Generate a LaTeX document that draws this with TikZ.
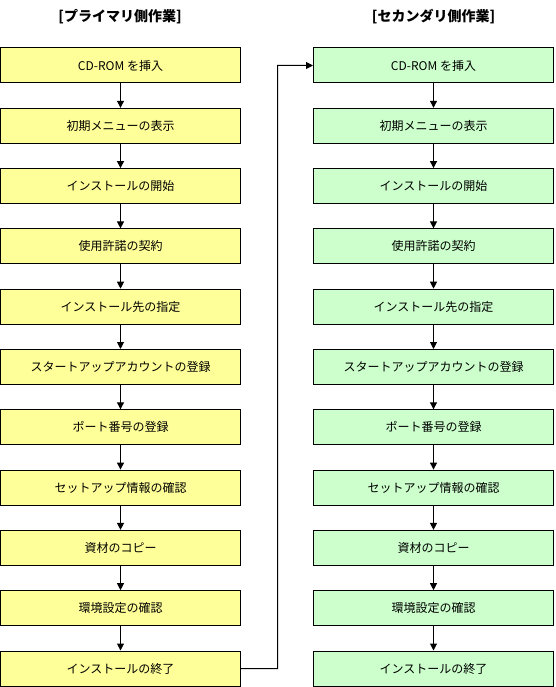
\documentclass[tikz,border=0pt]{standalone}
\usepackage{fontspec}
\setmainfont{Noto Sans CJK JP}
\usetikzlibrary{arrows.meta}
\definecolor{yel}{HTML}{FFFF99}
\definecolor{grn}{HTML}{CCFFCC}
\begin{document}
\begin{tikzpicture}[x=1pt,y=-1pt,
  stepbox/.style={draw=black,line width=1pt,minimum width=240pt,minimum height=35pt,inner sep=0pt,font=\fontsize{12}{14}\selectfont},
  pbox/.style={stepbox,fill=yel},
  sbox/.style={stepbox,fill=grn},
  conn/.style={line width=1pt,-{Triangle[length=7pt,width=7pt]}},
  title/.style={font=\bfseries\fontsize{14}{16}\selectfont}]
\useasboundingbox (0,0) rectangle (555,687);
\node[title] (tp) at (120,17) {[プライマリ側作業]};
\node[title] (ts) at (433.5,17) {[セカンダリ側作業]};
\foreach \t [count=\i] in {CD-ROM を挿入,初期メニューの表示,インストールの開始,使用許諾の契約,インストール先の指定,スタートアップアカウントの登録,ポート番号の登録,セットアップ情報の確認,資材のコピー,環境設定の確認,インストールの終了}{
  \node[pbox] (p\i) at (120.5,{65.5+60.3*(\i-1)}) {\t};
  \node[sbox] (s\i) at (433.5,{65.5+60.3*(\i-1)}) {\t};
}
\foreach \i [evaluate=\i as \j using int(\i+1)] in {1,...,10}{
  \draw[conn] (p\i) -- (p\j);
  \draw[conn] (s\i) -- (s\j);
}
\coordinate (c1) at (277.5,668.5);
\coordinate (c2) at (277.5,65.5);
\draw[conn] (p11.east) -- (c1) -- (c2) -- (s1.west);
\end{tikzpicture}
\end{document}
